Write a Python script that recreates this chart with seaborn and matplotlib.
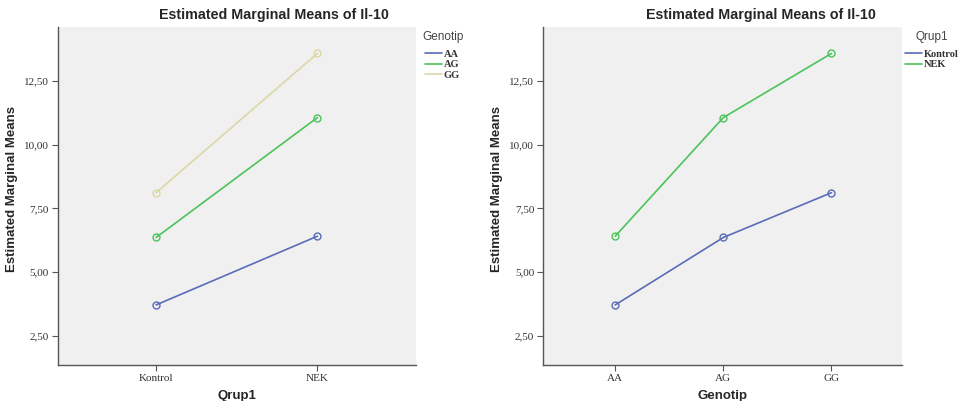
import numpy as np
import pandas as pd
import matplotlib
matplotlib.use("Agg")
import matplotlib.pyplot as plt
import seaborn as sns
from matplotlib.lines import Line2D
from matplotlib.ticker import FuncFormatter

# Estimated marginal means of Il-10
qrup = ["Kontrol", "NEK"]
genotip = ["AA", "AG", "GG"]
mean_kontrol = [3.71, 6.36, 8.12]   # AA, AG, GG
mean_nek = [6.41, 11.07, 13.59]
y_ticks = [2.5, 5.0, 7.5, 10.0, 12.5]

rows = []
for g, k, n in zip(genotip, mean_kontrol, mean_nek):
    rows.append({"Qrup1": "Kontrol", "Genotip": g, "mean": k})
    rows.append({"Qrup1": "NEK", "Genotip": g, "mean": n})
df = pd.DataFrame(rows)

geno_colors = {"AA": "#5b6bb8", "AG": "#4cc35a", "GG": "#dcd7a6"}
qrup_colors = {"Kontrol": "#5b6bb8", "NEK": "#4cc35a"}

sns.set_style("white")
plt.rcParams["font.family"] = ["Liberation Sans", "DejaVu Sans"]

fig = plt.figure(figsize=(9.64, 4.01), dpi=100)
ax1 = fig.add_axes([0.0599, 0.0898, 0.3714, 0.8436])
ax2 = fig.add_axes([0.5636, 0.0898, 0.3724, 0.8436])

fmt = FuncFormatter(lambda v, p: f"{v:.2f}".replace(".", ","))


def draw(ax, x, hue, order, hue_order, palette, xlim, xlabel, title, title_x,
         leg_x, legtitle_x):
    sns.lineplot(data=df, x=x, y="mean", hue=hue, hue_order=hue_order,
                 palette=palette, marker="o", markersize=5, markerfacecolor="none",
                 markeredgewidth=1.0, linewidth=1.2, legend=False, ax=ax, sort=False)
    for ln in ax.lines:
        ln.set_markeredgecolor(ln.get_color())
    ax.set_facecolor("#f0f0f0")
    ax.set_xticks(range(len(order)))
    ax.set_xticklabels(order)
    ax.set_xlim(*xlim)
    ax.set_ylim(1.35, 14.64)
    ax.set_yticks(y_ticks)
    ax.yaxis.set_major_formatter(fmt)
    for s in ["top", "right"]:
        ax.spines[s].set_visible(False)
    for s in ["left", "bottom"]:
        ax.spines[s].set_color("#555555")
        ax.spines[s].set_linewidth(1.0)
    ax.tick_params(axis="both", direction="out", length=4.5, width=0.8, color="#555555",
                   labelsize=8, pad=2, left=True, bottom=True)
    for lab in ax.get_xticklabels() + ax.get_yticklabels():
        lab.set_family("Liberation Serif")
        lab.set_color("#333333")
    ax.set_xlabel(xlabel, fontsize=9.5, fontweight="bold", labelpad=5)
    ax.set_ylabel("Estimated Marginal Means", fontsize=9.5, fontweight="bold")
    ax.yaxis.set_label_coords(-0.112, 0.52)
    fig.text(title_x, 0.962, title, ha="center", va="center", fontsize=10.3, fontweight="bold")
    fig.text(legtitle_x, 0.908, hue, ha="left", va="center", fontsize=8.5, color="#444444")
    handles = [Line2D([0], [0], color=palette[h], lw=1.2) for h in hue_order]
    leg = fig.legend(handles, hue_order, loc="upper left",
                     bbox_to_anchor=(leg_x, 0.877), frameon=False, handlelength=1.6,
                     handletextpad=0.2, labelspacing=0.12, fontsize=7.5,
                     borderaxespad=0, borderpad=0)
    for t in leg.get_texts():
        t.set_family("Liberation Serif")
        t.set_fontweight("bold")
        t.set_color("#333333")


draw(ax1, "Qrup1", "Genotip", qrup, genotip, geno_colors, (-0.61, 1.61),
     "Qrup1", "Estimated Marginal Means of Il-10", 0.284, 0.441, 0.438)
draw(ax2, "Genotip", "Qrup1", genotip, qrup, qrup_colors, (-0.665, 2.655),
     "Genotip", "Estimated Marginal Means of Il-10", 0.789, 0.939, 0.950)

fig.savefig("out.png", dpi=100, facecolor="white")
